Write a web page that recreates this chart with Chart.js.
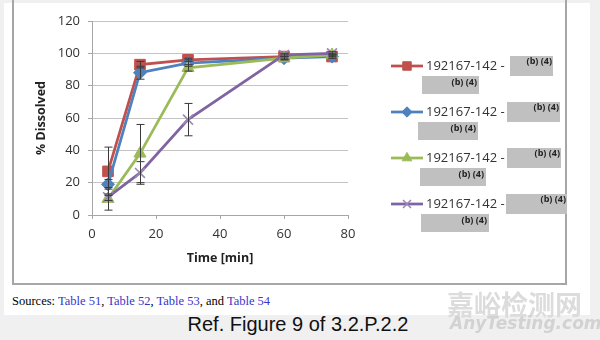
<!DOCTYPE html>
<html>
<head>
<meta charset="utf-8">
<script src="https://cdn.jsdelivr.net/npm/chart.js@4/dist/chart.umd.min.js"></script>
<style>
  html, body { margin: 0; padding: 0; }
  body { width: 600px; height: 340px; background: #f0f0f0; position: relative; overflow: hidden; }
  #page { position: absolute; left: 4px; top: 3px; width: 586px; height: 312px; background: #fff; }
  #frame { position: absolute; left: 12px; top: -5px; width: 551px; height: 286px; border: 2px solid #a6a6a6; }
  #chart { position: absolute; left: 0; top: 0; }
  #sources { position: absolute; left: 12px; top: 294px; font: 12.5px "Liberation Serif", serif; color: #000; white-space: nowrap; }
  #sources .ref { color: #3535c8; }
  #caption { position: absolute; left: 0; top: 313px; width: 596px; text-align: center; font: 20px "Liberation Sans", Arial, sans-serif; color: #111; }
  #wm1 { position: absolute; left: 447px; top: 284px; font: bold 27px "Noto Sans CJK SC", sans-serif; color: #dcdcdc; }
  #wm2 { position: absolute; left: 450px; top: 313px; font: italic bold 17px "DejaVu Sans", sans-serif; color: #d2d2d2; }
</style>
</head>
<body>
<div id="page"></div>
<div id="frame"></div>
<canvas id="chart" width="600" height="290"></canvas>
<div id="sources">Sources: <span class="ref">Table 51</span>, <span class="ref">Table 52</span>, <span class="ref">Table 53</span>, and <span class="ref">Table 54</span></div>
<div id="caption">Ref. Figure 9 of 3.2.P.2.2</div>
<div id="wm1">嘉峪检测网</div>
<div id="wm2">AnyTesting.com</div>
<script>
// Sampling times (min)
const times = [5, 15, 30, 60, 75];

// Lot labels shown in the legend
const seriesLabels = ['192167-142 -', '192167-142 -', '192167-142 -', '192167-142 -'];
const redactedText = '(b) (4)';

// Mean % dissolved per lot
const lotA = [27, 93, 96, 98, 98];
const lotB = [19, 88, 94, 97, 98];
const lotC = [10, 38, 91, 97, 99];
const lotD = [11, 26, 59, 99, 100];

// Standard deviations (error bars)
const lotAErr = [15, 2, 1, 1, 1];
const lotBErr = [3, 4, 2, 1, 1];
const lotCErr = [7, 18, 2, 1, 1];
const lotDErr = [2, 7, 10, 1, 1];

// Axis ticks
const xTicks = [0, 20, 40, 60, 80];
const yTicks = [0, 20, 40, 60, 80, 100, 120];

const seriesValues = [lotA, lotB, lotC, lotD];
const seriesErrors = [lotAErr, lotBErr, lotCErr, lotDErr];
const colors = ['#C0504D', '#4F81BD', '#9BBB59', '#8064A2'];
const markerColors = ['#C0504D', '#4F81BD', '#9BBB59', '#9a88b8'];
const styles = ['rect', 'rectRot', 'triangle', 'crossRot'];
const radii = [7.5, 6.5, 7, 7];

const FONT = '"Open Sans", "Liberation Sans", sans-serif';

const datasets = seriesValues.map((vals, i) => ({
  label: seriesLabels[i],
  data: vals.map((v, j) => ({ x: times[j], y: v })),
  borderColor: colors[i],
  backgroundColor: markerColors[i],
  pointBackgroundColor: markerColors[i],
  pointBorderColor: markerColors[i],
  pointBorderWidth: styles[i] === 'crossRot' ? 1.6 : 1,
  borderWidth: 2.75,
  pointStyle: styles[i],
  pointRadius: radii[i],
  tension: 0,
  order: seriesValues.length - 1 - i
}));

// Error bars, positioned through the chart's own scales
const errorBars = {
  id: 'errorBars',
  afterDatasetsDraw(chart) {
    const { ctx, chartArea, scales: { x, y } } = chart;
    ctx.save();
    ctx.beginPath();
    ctx.rect(chartArea.left - 10, chartArea.top, chartArea.right - chartArea.left + 20, chartArea.bottom - chartArea.top + 2);
    ctx.clip();
    ctx.strokeStyle = '#3a3a3a';
    ctx.lineWidth = 1;
    seriesErrors.forEach((errs, i) => {
      errs.forEach((e, j) => {
        if (!e) return;
        const v = seriesValues[i][j];
        const px = Math.round(x.getPixelForValue(times[j])) + 0.5;
        const yTop = y.getPixelForValue(v + e);
        const yBot = y.getPixelForValue(v - e);
        ctx.beginPath();
        ctx.moveTo(px, yTop); ctx.lineTo(px, yBot);
        ctx.moveTo(px - 4, yTop); ctx.lineTo(px + 4, yTop);
        ctx.moveTo(px - 4, yBot); ctx.lineTo(px + 4, yBot);
        ctx.stroke();
      });
    });
    ctx.restore();
  }
};

// Legend on the right with line samples, markers, labels and grey redaction boxes
const sideLegend = {
  id: 'sideLegend',
  afterDraw(chart) {
    const ctx = chart.ctx;
    const rows = [66, 112, 158, 204];
    const boxA = [[510, 553], [507, 560], [507, 561], [506, 567]];
    const boxB = [[422, 479], [418, 478], [420, 486], [421, 489]];
    chart.data.datasets.forEach((ds, i) => {
      const y = rows[i];
      ctx.save();
      ctx.strokeStyle = ds.borderColor;
      ctx.lineWidth = 2.75;
      ctx.beginPath();
      ctx.moveTo(391, y); ctx.lineTo(423, y);
      ctx.stroke();
      ctx.fillStyle = ds.pointBackgroundColor;
      ctx.strokeStyle = ds.pointBorderColor;
      ctx.lineWidth = ds.pointBorderWidth;
      Chart.helpers.drawPoint(ctx, { pointStyle: ds.pointStyle, radius: ds.pointRadius * 0.8, borderWidth: ds.pointBorderWidth, rotation: 0 }, 407, y);
      ctx.font = '13px ' + FONT;
      ctx.fillStyle = '#333';
      ctx.textBaseline = 'middle';
      ctx.textAlign = 'left';
      ctx.fillText(ds.label, 426, y);
      // redaction boxes
      ctx.fillStyle = '#c0c0c0';
      ctx.fillRect(boxA[i][0], y - 10, boxA[i][1] - boxA[i][0], 20);
      ctx.fillRect(boxB[i][0], y + 10, boxB[i][1] - boxB[i][0], 18);
      ctx.font = 'bold 9px ' + FONT;
      ctx.fillStyle = '#222';
      ctx.textAlign = 'right';
      ctx.fillText(redactedText, boxA[i][1] - 1, y - 5);
      ctx.fillText(redactedText, boxB[i][1] - 2, y + 16);
      ctx.restore();
    });
  }
};

new Chart(document.getElementById('chart'), {
  type: 'line',
  data: { datasets },
  options: {
    responsive: false,
    animation: false,
    layout: { padding: { left: 30, top: 21, right: 252, bottom: 20 } },
    plugins: { legend: { display: false }, tooltip: { enabled: false } },
    scales: {
      x: {
        type: 'linear', min: 0, max: 80,
        afterBuildTicks(s) { s.ticks = xTicks.map(v => ({ value: v })); },
        afterFit(s) { s.height = 55; },
        ticks: { padding: 7, color: '#333', font: { family: FONT, size: 13 } },
        grid: { drawOnChartArea: false, drawTicks: true, tickLength: 4, color: '#a6a6a6' },
        border: { color: '#a6a6a6', width: 1 },
        title: { display: true, text: 'Time [min]', color: '#222', font: { family: FONT, size: 12.5, weight: 'bold' }, padding: { top: 4, bottom: 4 } }
      },
      y: {
        min: 0, max: 120,
        afterBuildTicks(s) { s.ticks = yTicks.map(v => ({ value: v })); },
        afterFit(s) { s.width = 62; },
        ticks: { padding: 8, color: '#333', font: { family: FONT, size: 13 } },
        grid: { color: '#c4c4c4', lineWidth: 1, tickLength: 4, tickColor: '#a6a6a6' },
        border: { color: '#a6a6a6', width: 1 },
        title: { display: true, text: '% Dissolved', color: '#222', font: { family: FONT, size: 12.5, weight: 'bold' }, padding: { top: 4, bottom: 4 } }
      }
    }
  },
  plugins: [errorBars, sideLegend]
});
</script>
</body>
</html>
